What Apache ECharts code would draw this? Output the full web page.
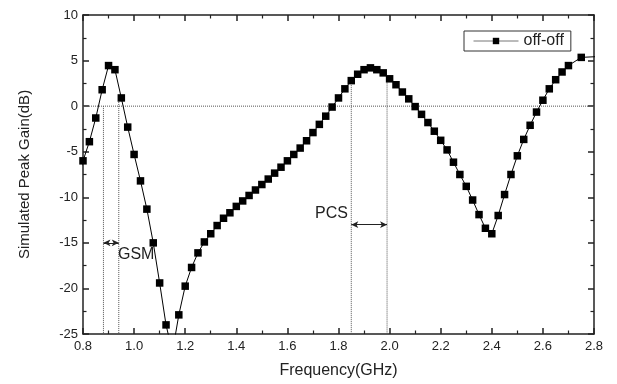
<!DOCTYPE html>
<html>
<head>
<meta charset="utf-8">
<script src="https://cdn.jsdelivr.net/npm/echarts@6/dist/echarts.min.js"></script>
<style>html,body{margin:0;padding:0;background:#fff;}#c{width:617px;height:384px;}</style>
</head>
<body>
<div id="c"></div>
<script>
// Frequency (GHz) samples
var freq = [0.775, 0.8, 0.825, 0.85, 0.875, 0.9, 0.925, 0.95, 0.975, 1.0, 1.025, 1.05, 1.075, 1.1, 1.125, 1.15, 1.175,
  1.2, 1.225, 1.25, 1.275, 1.3, 1.325, 1.35, 1.375, 1.4, 1.425, 1.45, 1.475, 1.5, 1.525, 1.55, 1.575,
  1.6, 1.625, 1.65, 1.675, 1.7, 1.725, 1.75, 1.775, 1.8, 1.825, 1.85, 1.875, 1.9, 1.925, 1.95, 1.975,
  2.0, 2.025, 2.05, 2.075, 2.1, 2.125, 2.15, 2.175, 2.2, 2.225, 2.25, 2.275, 2.3, 2.325, 2.35, 2.375,
  2.4, 2.425, 2.45, 2.475, 2.5, 2.525, 2.55, 2.575, 2.6, 2.625, 2.65, 2.675, 2.7, 2.75, 2.825];
// Simulated peak gain (dB), series "off-off"
var gain = [-8.5, -6.0, -3.9, -1.3, 1.8, 4.45, 4.0, 0.9, -2.3, -5.3, -8.2, -11.3, -15.0, -19.4, -24.0, -27.0, -22.9,
  -19.75, -17.7, -16.1, -14.9, -14.0, -13.1, -12.3, -11.7, -11.0, -10.4, -9.8, -9.2, -8.6, -8.0, -7.35, -6.7,
  -6.0, -5.3, -4.6, -3.8, -2.9, -2.0, -1.1, -0.1, 0.9, 1.9, 2.8, 3.5, 4.0, 4.2, 4.0, 3.65,
  3.0, 2.35, 1.55, 0.8, -0.05, -0.9, -1.8, -2.75, -3.75, -4.8, -6.15, -7.5, -8.8, -10.3, -11.9, -13.4,
  -14.0, -12.0, -9.7, -7.5, -5.45, -3.65, -2.1, -0.65, 0.65, 1.9, 2.9, 3.75, 4.45, 5.35, 5.45];
var seriesName = 'off-off';
// Axis ticks
var xTicks = [0.8, 1.0, 1.2, 1.4, 1.6, 1.8, 2.0, 2.2, 2.4, 2.6, 2.8];
var yTicks = [-25, -20, -15, -10, -5, 0, 5, 10];
// Annotations: band edges (GHz), their dotted-line tops (dB), arrow level (dB)
var gsmEdges = [0.88, 0.94];
var gsmTops = [0, 0.9];
var gsmArrowY = -15;
var pcsEdges = [1.85, 1.99];
var pcsTops = [2.3, 2.8];
var pcsArrowY = -13;
var zeroLine = [[0.8, 0], [2.8, 0]];

var font = 'Arial, "Liberation Sans", sans-serif';
var axisColor = '#222';
var data = freq.map(function (f, i) { return [f, gain[i]]; });

function vline(x, top) { return [[x, top], [x, -25]]; }
var dotted = { color: '#555', width: 1, type: 'dotted' };
var refSeries = [];
[[gsmEdges, gsmTops], [pcsEdges, pcsTops]].forEach(function (p) {
  p[0].forEach(function (x, i) {
    refSeries.push({ type: 'line', data: vline(x, p[1][i]), symbol: 'none', silent: true,
      lineStyle: dotted, z: 1, animation: false });
  });
});
refSeries.push({ type: 'line', data: zeroLine, symbol: 'none', silent: true, lineStyle: dotted, z: 1, animation: false });

function baseX(pos, labels) {
  return {
    type: 'value', position: pos, min: xTicks[0], max: xTicks[xTicks.length - 1], interval: 0.2,
    axisLine: { show: true, onZero: false, lineStyle: { color: axisColor, width: 1.5 } },
    axisTick: { show: true, inside: true, length: 6, lineStyle: { color: axisColor, width: 1.5 } },
    minorTick: { show: true, splitNumber: 2, length: 3.5, lineStyle: { color: axisColor, width: 1.2 } },
    splitLine: { show: false },
    axisLabel: { show: labels, color: '#222', fontSize: 13, fontFamily: font, margin: 6,
      formatter: function (v) { return v.toFixed(1); } }
  };
}
function baseY(pos, labels) {
  return {
    type: 'value', position: pos, min: yTicks[0], max: yTicks[yTicks.length - 1], interval: 5,
    axisLine: { show: true, onZero: false, lineStyle: { color: axisColor, width: 1.5 } },
    axisTick: { show: true, inside: true, length: 6, lineStyle: { color: axisColor, width: 1.5 } },
    minorTick: { show: true, splitNumber: 2, length: 3.5, lineStyle: { color: axisColor, width: 1.2 } },
    splitLine: { show: false },
    axisLabel: { show: labels, color: '#222', fontSize: 13, fontFamily: font, margin: 5 }
  };
}
var xMain = baseX('bottom', true);
xMain.name = 'Frequency(GHz)';
xMain.nameLocation = 'middle';
xMain.nameGap = 29;
xMain.nameTextStyle = { fontSize: 16, fontFamily: font, color: '#222' };
var yMain = baseY('left', true);
yMain.name = 'Simulated Peak Gain(dB)';
yMain.nameLocation = 'middle';
yMain.nameGap = 51;
yMain.nameTextStyle = { fontSize: 15, fontFamily: font, color: '#222' };

var chart = echarts.init(document.getElementById('c'), null, { renderer: 'canvas' });
chart.setOption({
  animation: false,
  backgroundColor: '#fff',
  grid: { left: 83, right: 23, top: 15, bottom: 50 },
  xAxis: [xMain, baseX('top', false)],
  yAxis: [yMain, baseY('right', false)],
  legend: {
    data: [seriesName], left: 464, top: 31, orient: 'vertical',
    padding: [2, 7, 2, 9], borderColor: '#333', borderWidth: 1, borderRadius: 0,
    itemWidth: 45, itemHeight: 8,
    lineStyle: { color: '#777', width: 1 },
    textStyle: { fontSize: 16, fontFamily: font, color: '#222' }
  },
  graphic: [
    { type: 'text', left: 118, top: 247, style: { text: 'GSM', font: '16px ' + font, fill: '#222' } },
    { type: 'text', right: 617 - 348, top: 206, style: { text: 'PCS', font: '16px ' + font, fill: '#222' } }
  ],
  series: refSeries.concat([{
    name: seriesName, type: 'line', data: data, clip: true, z: 5,
    symbol: 'rect', symbolSize: 7.5, showAllSymbol: true,
    itemStyle: { color: '#000' },
    lineStyle: { color: '#000', width: 1 },
    markLine: {
      silent: true, animation: false, symbol: ['arrow', 'arrow'], symbolSize: [5, 7],
      lineStyle: { color: '#222', width: 1, type: 'solid' },
      label: { show: false },
      data: [
        [{ coord: [gsmEdges[0], gsmArrowY] }, { coord: [gsmEdges[1], gsmArrowY] }],
        [{ coord: [pcsEdges[0], pcsArrowY] }, { coord: [pcsEdges[1], pcsArrowY] }]
      ]
    }
  }])
});
</script>
</body>
</html>
